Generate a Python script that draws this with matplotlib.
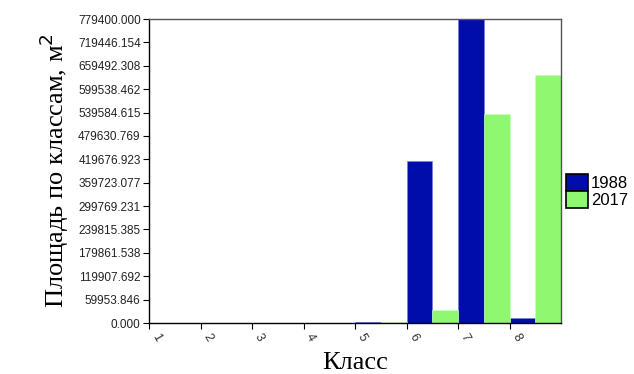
import matplotlib.pyplot as plt
import matplotlib.ticker as mticker
import numpy as np

klasy = [1, 2, 3, 4, 5, 6, 7, 8]
ploshad_1988 = [0, 0, 0, 0, 3300, 416000, 779400, 13600]
ploshad_2017 = [0, 0, 0, 0, 2500, 33300, 535900, 635000]
y_max = 779400.0

fig = plt.figure(figsize=(6.34, 3.74), dpi=100)
ax = fig.add_axes([149/634, 1 - 323/374, (561 - 149)/634, (323 - 19)/374])

x = np.array(klasy)
ax.bar(x, ploshad_1988, width=0.5, align='edge', color='#000DAA',
       edgecolor='#6f7fe0', linewidth=0.4, label='1988')
ax.bar(x + 0.5, ploshad_2017, width=0.5, align='edge', color='#8FF870',
       edgecolor='#c8ffc0', linewidth=0.4, label='2017')

ax.set_xlim(1, 9)
ax.set_ylim(0, y_max)
ax.set_xticks(klasy)
ax.set_xticklabels([str(k) for k in klasy], rotation=-60, ha='left', va='top',
                   fontsize=9, family='Liberation Sans', color='#333333')
ax.set_yticks(np.linspace(0, y_max, 14))
ax.yaxis.set_major_formatter(mticker.FormatStrFormatter('%.3f'))
for lab in ax.get_yticklabels():
    lab.set_fontsize(8.5)
    lab.set_family('Liberation Sans')
    lab.set_color('#222222')
ax.tick_params(axis='both', direction='out', length=4, width=0.8, pad=2)

for s in ['top', 'right']:
    ax.spines[s].set_color('#555555')
    ax.spines[s].set_linewidth(1.0)
for s in ['left', 'bottom']:
    ax.spines[s].set_color('black')
    ax.spines[s].set_linewidth(1.0)

ax.set_xlabel('Класс', family='Liberation Serif', fontsize=19, labelpad=6)
ax.set_ylabel('Площадь по классам, м$^2$', family='Liberation Serif',
              fontsize=19, labelpad=5)

leg = fig.legend(loc='center left', bbox_to_anchor=(566/634, 1 - 191/374),
                 frameon=False, borderpad=0, borderaxespad=0, labelspacing=0.0,
                 handlelength=1.3, handleheight=1.15, handletextpad=0.2,
                 prop={'family': 'Liberation Sans', 'size': 12})
for h in leg.legend_handles:
    h.set_edgecolor('black')
    h.set_linewidth(1.2)

fig.savefig('out.png', dpi=100)
